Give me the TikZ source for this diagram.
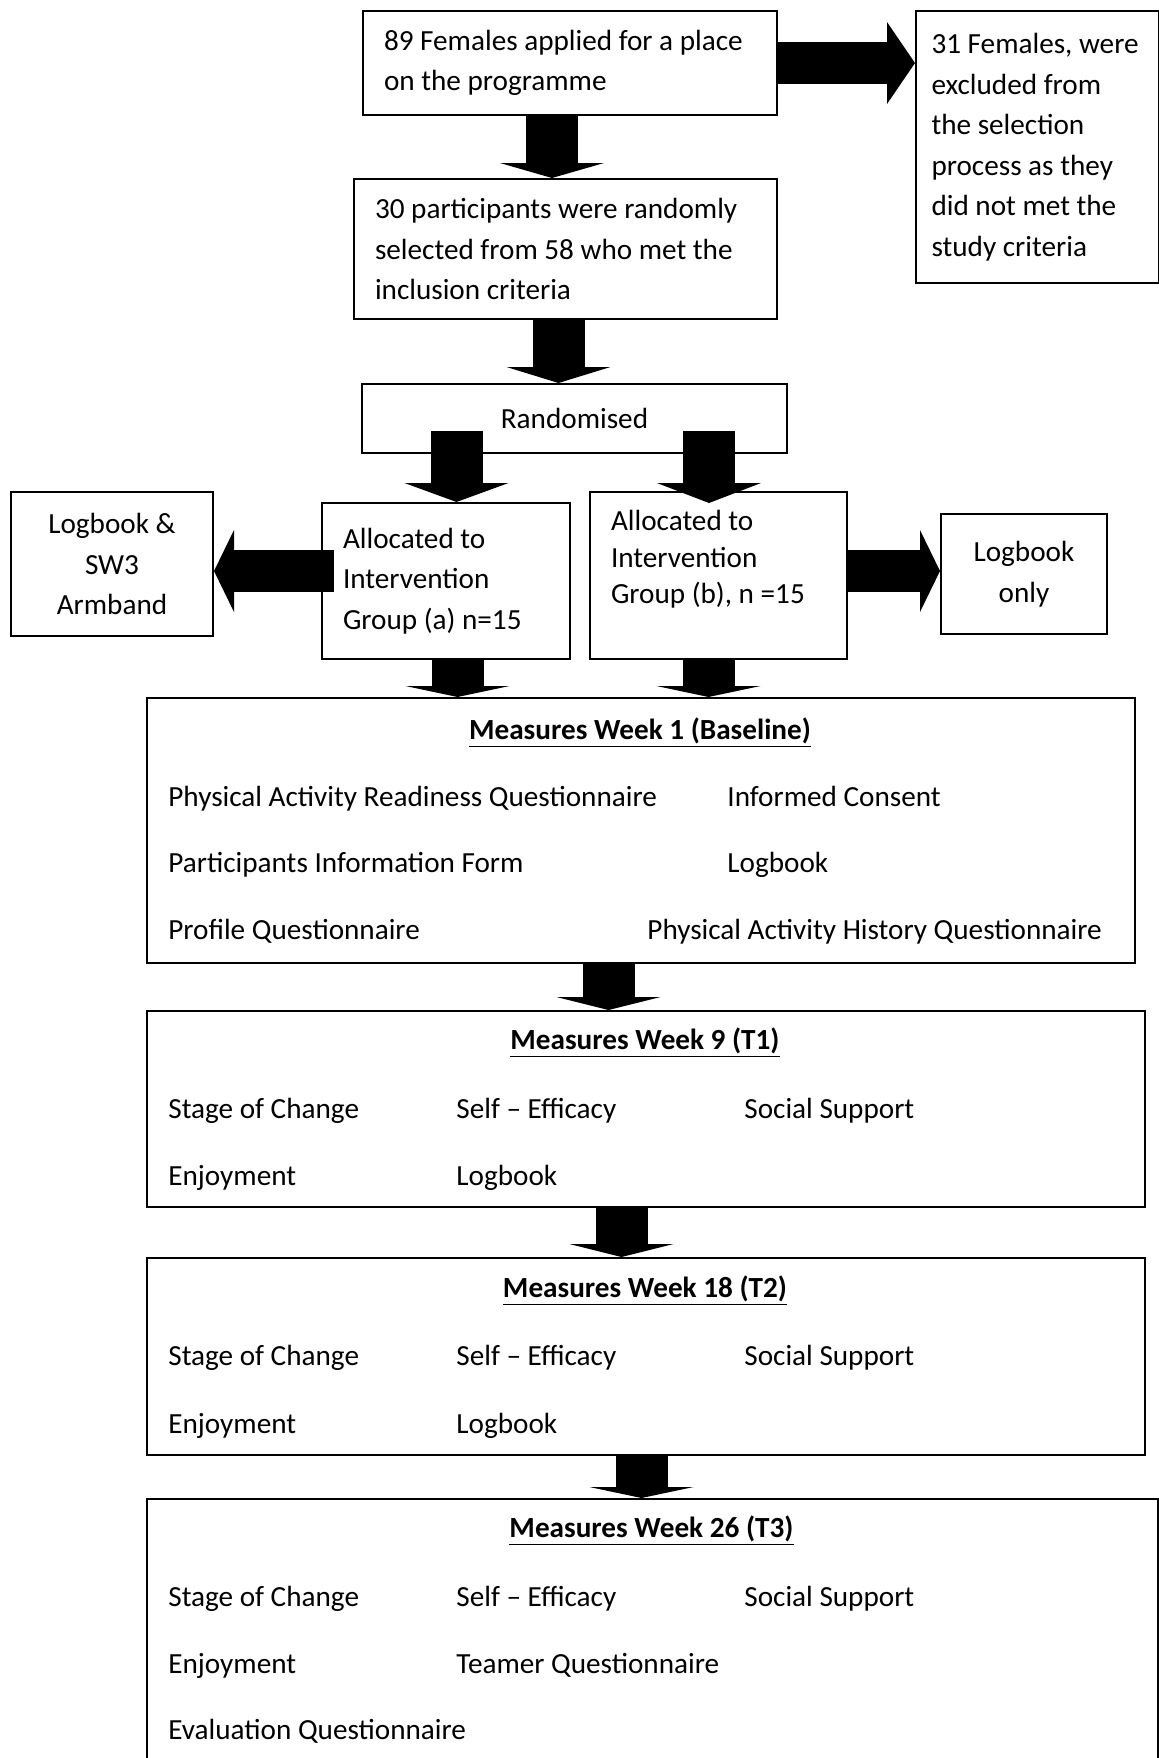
\documentclass[tikz,border=0pt]{standalone}
\usepackage{fontspec}
\setmainfont{Carlito}
\usetikzlibrary{arrows.meta,calc}
\def\bodysize{\fontsize{14.6pt}{20.25pt}\selectfont}
\tikzset{
  box/.style={draw, line width=1pt, anchor=north west, inner xsep=10.5pt, inner ysep=0pt, align=flush left, font=\bodysize},
  frame/.style={draw, line width=1pt, anchor=north west, inner sep=0pt},
  item/.style={anchor=base west, inner sep=0pt, font=\bodysize},
  heading/.style={anchor=base, inner sep=0pt, font=\bodysize\bfseries},
  downarrow/.style={line width=26pt, -{Triangle[width=52pt,length=#1,line width=0pt]}},
  downarrow/.default=7.5pt,
  sidearrow/.style={line width=21pt, -{Triangle[width=41pt,length=#1,line width=0pt]}},
  sidearrow/.default=10pt
}

\begin{document}
\begin{tikzpicture}[x=0.5pt, y=-0.5pt]
    \useasboundingbox (0,0) rectangle (1159,1758);

    % recruitment
    \node[box, text width=186pt, minimum height=52pt] (apply) at (362,10)
        {89 Females applied for a place\\on the programme};
    \node[box, text width=106pt, inner xsep=7.75pt, minimum height=136pt] (excl) at (915,10)
        {31 Females, were\\excluded from\\the selection\\process as they\\did not met the\\study criteria};
    \node[box, text width=190.5pt, minimum height=70pt] (select) at (353,178)
        {30 participants were randomly\\selected from 58 who met the\\inclusion criteria};
    \node[box, align=flush center, text width=191.5pt, minimum height=34.5pt] (rand) at (361,383) {Randomised};

    % groups
    \node[box, text width=103pt, minimum height=78pt] (grpa) at (321,502)
        {Allocated to\\Intervention\\Group (a) n=15};
    \node[box, text width=107.5pt, minimum height=83.5pt, font=\fontsize{14.6pt}{18.35pt}\selectfont] (grpb) at (589,491)
        {Allocated to\\Intervention\\Group (b), n =15\\\mbox{}};
    \node[box, align=flush center, text width=80pt, minimum height=72pt] (armband) at (10,491)
        {Logbook \&\\SW3\\Armband};
    \node[box, align=flush center, text width=62pt, minimum height=60pt] (logonly) at (940,513)
        {Logbook\\only};

    % measures
    \node[frame, minimum width=494pt, minimum height=132.5pt] (m1) at (146,697) {};
    \node[frame, minimum width=499pt, minimum height=98pt] (m9) at (146,1010) {};
    \node[frame, minimum width=499pt, minimum height=98.5pt] (m18) at (146,1257) {};
    \node[frame, minimum width=505.5pt, minimum height=200pt] (m26) at (146,1498) {};

    \node[heading] (m1head) at (640,739) {\underline{Measures Week 1 (Baseline)}};
    \path (168,806) node[item] (parq) {Physical Activity Readiness Questionnaire}
          (727,806) node[item] (consent) {Informed Consent}
          (168,872) node[item] (pif) {Participants Information Form}
          (727,872) node[item] (logA) {Logbook}
          (168,939) node[item] (profile) {Profile Questionnaire}
          (647,939) node[item] (pahq) {Physical Activity History Questionnaire};

    \node[heading] (m9head) at (645,1049) {\underline{Measures Week 9 (T1)}};
    \path (168,1118) node[item] (socA) {Stage of Change}
          (456,1118) node[item] (seA) {Self – Efficacy}
          (744,1118) node[item] (ssA) {Social Support}
          (168,1185) node[item] (enjA) {Enjoyment}
          (456,1185) node[item] (logB) {Logbook};

    \node[heading] (m18head) at (645,1297) {\underline{Measures Week 18 (T2)}};
    \path (168,1365) node[item] (socB) {Stage of Change}
          (456,1365) node[item] (seB) {Self – Efficacy}
          (744,1365) node[item] (ssB) {Social Support}
          (168,1433) node[item] (enjB) {Enjoyment}
          (456,1433) node[item] (logC) {Logbook};

    \node[heading] (m26head) at (651.5,1537) {\underline{Measures Week 26 (T3)}};
    \path (168,1606) node[item] (socC) {Stage of Change}
          (456,1606) node[item] (seC) {Self – Efficacy}
          (744,1606) node[item] (ssC) {Social Support}
          (168,1673) node[item] (enjC) {Enjoyment}
          (456,1673) node[item] (teamer) {Teamer Questionnaire}
          (168,1739) node[item] (evalq) {Evaluation Questionnaire};

    % block arrows
    \draw[downarrow] ($(apply.south)+(-18,0)$) -- ($(select.north)+(-13.5,0)$);
    \draw[sidearrow=14pt] (apply.east) -- (apply.east -| excl.west);
    \draw[downarrow=8pt] ($(select.south)+(-7,0)$) -- ($(rand.north)+(-16,0)$);
    \draw[downarrow=9.5pt] ($(rand.south)+(-118,-23)$) -- ($(grpa.north)+(10.5,0)$);
    \draw[downarrow=10pt] ($(rand.south)+(134.5,-23)$) -- ($(grpb.north)+(-9.5,12)$);
    \draw[sidearrow] ($(grpa.west)+(13,-10)$) -- ($(armband.east)+(0,7)$);
    \draw[sidearrow] ($(grpb.east)+(0,-4.5)$) -- ($(logonly.west)+(0,-3)$);
    \draw[downarrow=5.5pt] ($(grpa.south)+(11.5,0)$) -- ($(m1.north)+(-183.5,0)$);
    \draw[downarrow=5.5pt] ($(grpb.south)+(-10,0)$) -- ($(m1.north)+(67.5,0)$);
    \draw[downarrow=6.5pt] ($(m1.south)+(-32.5,0)$) -- ($(m9.north)+(-37.5,0)$);
    \draw[downarrow=6.5pt] ($(m9.south)+(-24.5,0)$) -- ($(m18.north)+(-24.5,0)$);
    \draw[downarrow=5.5pt] ($(m18.south)+(-4.5,0)$) -- ($(m26.north)+(-11,0)$);
\end{tikzpicture}
\end{document}
